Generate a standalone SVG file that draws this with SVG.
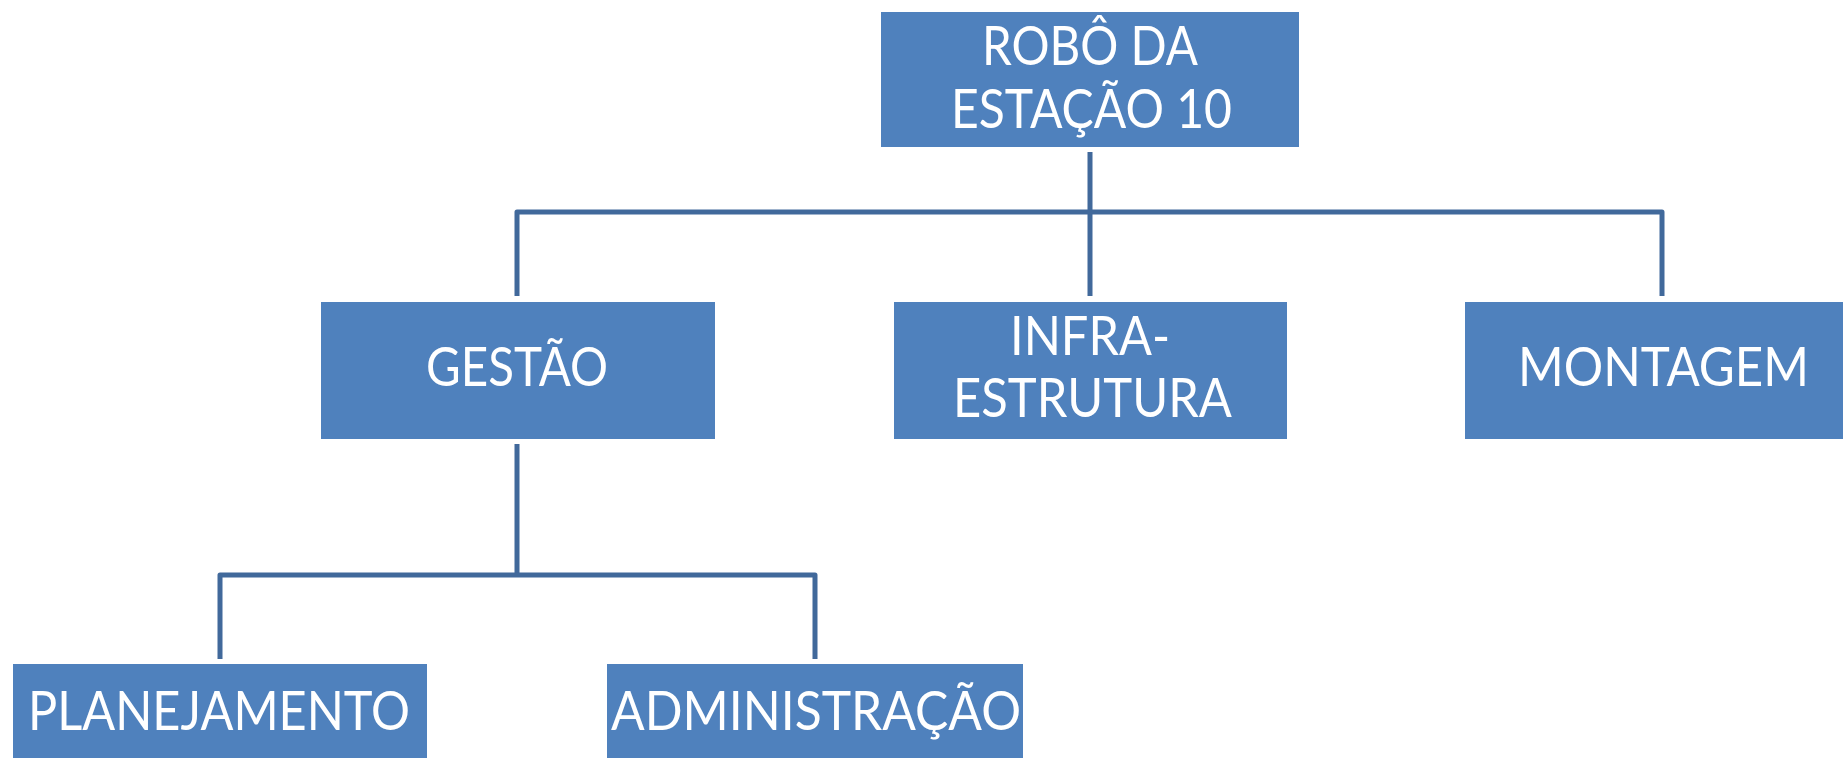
<svg xmlns="http://www.w3.org/2000/svg" width="1843" height="758" viewBox="0 0 1843 758">
<style>
.box{fill:#4F81BD;}
.t{fill:#FFFFFF;font-family:Lato,"Open Sans","Liberation Sans",sans-serif;font-size:54px;text-anchor:start;}
.c{fill:none;stroke:#41699B;stroke-width:5;stroke-linejoin:round;stroke-linecap:butt;}
</style>
<rect width="1843" height="758" fill="#FFFFFF"/>
<g id="connectors">
<path class="c" d="M1090 152 V296"/>
<path class="c" d="M517 296 V212 H1662 V296"/>
<path class="c" d="M517 444 V575"/>
<path class="c" d="M220 659 V575 H815 V659"/>
</g>
<g id="root">
<rect class="box" x="881" y="12" width="418" height="135"/>
<text class="t" x="982" y="65" textLength="216" lengthAdjust="spacingAndGlyphs">ROBÔ DA</text>
<text class="t" x="951" y="128" textLength="281" lengthAdjust="spacingAndGlyphs">ESTAÇÃO 10</text>
</g>
<g id="gestao">
<rect class="box" x="321" y="302" width="394" height="137"/>
<text class="t" x="426" y="386" textLength="182" lengthAdjust="spacingAndGlyphs">GESTÃO</text>
</g>
<g id="infra">
<rect class="box" x="894" y="302" width="393" height="137"/>
<text class="t" x="1010" y="355" textLength="160" lengthAdjust="spacingAndGlyphs">INFRA-</text>
<text class="t" x="953" y="417" textLength="279" lengthAdjust="spacingAndGlyphs">ESTRUTURA</text>
</g>
<g id="montagem">
<rect class="box" x="1465" y="302" width="394" height="137"/>
<text class="t" x="1518" y="386" textLength="291" lengthAdjust="spacingAndGlyphs">MONTAGEM</text>
</g>
<g id="planejamento">
<rect class="box" x="13" y="664" width="414" height="120"/>
<text class="t" x="28" y="730" textLength="382" lengthAdjust="spacingAndGlyphs">PLANEJAMENTO</text>
</g>
<g id="administracao">
<rect class="box" x="607" y="664" width="416" height="120"/>
<text class="t" x="611" y="730" textLength="410" lengthAdjust="spacingAndGlyphs">ADMINISTRAÇÃO</text>
</g>
</svg>
